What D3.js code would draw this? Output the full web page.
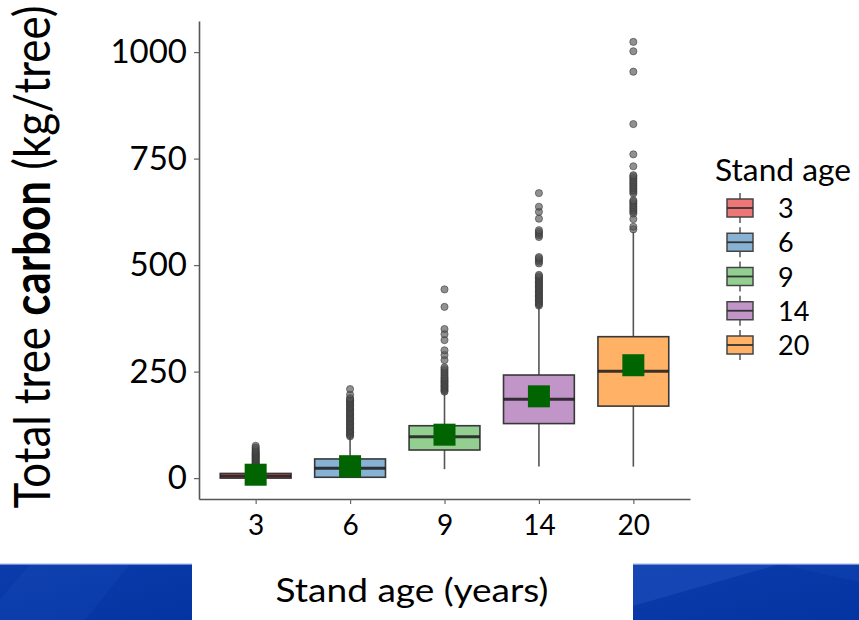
<!DOCTYPE html>
<html>
<head>
<meta charset="utf-8">
<script src="https://cdn.jsdelivr.net/npm/d3@7"></script>
<style>
  body { margin: 0; background: #fff; }
  svg { display: block; }
  text { font-family: Lato, "Open Sans", sans-serif; fill: #000; }
</style>
</head>
<body>
<svg id="chart" width="859" height="620"></svg>
<script>
// Stand ages (years) used as categories
const ages = ["3", "6", "9", "14", "20"];

// Five-number summaries of total tree carbon (kg/tree)
const lowerWhisker = [0, 0, 21, 27, 27];
const q1 = [0, 2, 66, 128, 169];
const medians = [5, 23, 97, 185, 251];
const q3 = [11, 45, 123, 242, 332];
const upperWhisker = [27, 96, 200, 402, 578];
const means = [8, 28, 102, 192, 265];

// Points beyond the whiskers
const outliers3 = [29, 31, 33, 35, 37, 39, 41, 43, 45, 47, 49, 51, 53, 55, 57, 59, 61, 63, 66, 69, 72, 76];
const outliers6 = [98, 101, 104, 107, 110, 113, 116, 119, 122, 125, 128, 131, 134, 137, 140, 143, 146, 149,
  152, 155, 158, 161, 164, 167, 170, 173, 176, 179, 182, 185, 188, 196, 209];
const outliers9 = [203, 206, 209, 212, 215, 218, 221, 224, 227, 230, 233, 236, 240, 244, 248, 252, 256, 260,
  277, 289, 300, 324, 338, 350, 402, 443];
const outliers14 = [405, 408, 411, 414, 417, 420, 423, 426, 429, 432, 435, 438, 441, 444, 447, 450, 453, 456,
  459, 462, 465, 468, 471, 474, 477, 504, 508, 512, 516, 519, 566, 570, 574, 578, 582, 609, 625, 637, 669];
const outliers20 = [584, 590, 608, 621, 625, 629, 633, 637, 641, 645, 649, 652, 668, 672, 676, 680, 684, 688,
  692, 696, 700, 704, 708, 711, 732, 760, 831, 954, 1002, 1024];
const outliers = [outliers3, outliers6, outliers9, outliers14, outliers20];

const yTicks = [0, 250, 500, 750, 1000];
const boxColors = ["#E41A1C", "#377EB8", "#4DAF4A", "#984EA3", "#FF7F00"];

const svg = d3.select("#chart");

// Blue slide bands along the bottom edge
const defs = svg.append("defs");
const grad = defs.append("linearGradient").attr("id", "band").attr("x1", 0).attr("y1", 0).attr("x2", 1).attr("y2", 1);
grad.append("stop").attr("offset", 0).attr("stop-color", "#0c3cab");
grad.append("stop").attr("offset", 1).attr("stop-color", "#0434a2");

const bands = svg.append("g");
bands.append("rect").attr("x", 0).attr("y", 564).attr("width", 192).attr("height", 56).attr("fill", "url(#band)");
bands.append("path").attr("d", "M30,564 L130,564 L85,620 L0,620 L0,600 Z").attr("fill", "#2a5bc8").attr("opacity", 0.15);
bands.append("rect").attr("x", 633).attr("y", 564).attr("width", 226).attr("height", 56).attr("fill", "url(#band)");
bands.append("path").attr("d", "M633,564 L780,564 L633,606 Z").attr("fill", "#2a5bc8").attr("opacity", 0.35);
bands.append("path").attr("d", "M780,564 L859,564 L859,582 Z").attr("fill", "#2a5bc8").attr("opacity", 0.15);
bands.append("rect").attr("x", 0).attr("y", 563.5).attr("width", 192).attr("height", 1.2).attr("fill", "#9fb4e4");
bands.append("rect").attr("x", 633).attr("y", 563.5).attr("width", 226).attr("height", 1.2).attr("fill", "#9fb4e4");

// Scales
const x = d3.scalePoint().domain(ages).range([199, 690]).padding(0.6);
const y = d3.scaleLinear().domain([-49, 1073]).range([499, 21]);
const bw = x.step() * 0.75;

// Axes
const yAxis = svg.append("g").attr("transform", "translate(199,0)")
  .call(d3.axisLeft(y).tickValues(yTicks).tickFormat(d3.format("d")).tickSize(5).tickSizeOuter(0).tickPadding(7));
const xAxis = svg.append("g").attr("transform", "translate(0,499)")
  .call(d3.axisBottom(x).tickSize(5).tickSizeOuter(0).tickPadding(11));
[yAxis, xAxis].forEach(a => {
  a.select(".domain").attr("stroke", "#555").attr("stroke-width", 1.6);
  a.selectAll(".tick line").attr("stroke", "#666").attr("stroke-width", 1.2);
});
yAxis.selectAll(".tick text").attr("font-size", 33).attr("fill", "#111")
  .attr("font-family", "Lato, sans-serif");
xAxis.selectAll(".tick text").attr("font-size", 28).attr("fill", "#111")
  .attr("font-family", "Lato, sans-serif");

// Boxplots
const plot = svg.append("g");
ages.forEach((age, i) => {
  const cx = x(age);
  const g = plot.append("g");
  g.append("line").attr("x1", cx).attr("x2", cx).attr("y1", y(lowerWhisker[i])).attr("y2", y(q1[i]))
    .attr("stroke", "#555").attr("stroke-width", 1.6);
  g.append("line").attr("x1", cx).attr("x2", cx).attr("y1", y(q3[i])).attr("y2", y(upperWhisker[i]))
    .attr("stroke", "#555").attr("stroke-width", 1.6);
  g.append("rect").attr("x", cx - bw / 2).attr("width", bw)
    .attr("y", y(q3[i])).attr("height", y(q1[i]) - y(q3[i]))
    .attr("fill", boxColors[i]).attr("fill-opacity", 0.6)
    .attr("stroke", "#383838").attr("stroke-width", 1.6);
  g.append("line").attr("x1", cx - bw / 2).attr("x2", cx + bw / 2)
    .attr("y1", y(medians[i])).attr("y2", y(medians[i]))
    .attr("stroke", "#1a1a1a").attr("stroke-opacity", 0.85).attr("stroke-width", 3);
  g.selectAll("circle").data(outliers[i]).join("circle")
    .attr("cx", cx).attr("cy", d => y(d)).attr("r", 3.6)
    .attr("fill", "#555").attr("fill-opacity", 0.65)
    .attr("stroke", "#333").attr("stroke-opacity", 0.55).attr("stroke-width", 1);
});

// Mean markers
const ms = 22;
plot.selectAll("rect.mean").data(ages).join("rect").attr("class", "mean")
  .attr("x", d => x(d) - ms / 2).attr("y", (d, i) => y(means[i]) - ms / 2)
  .attr("width", ms).attr("height", ms).attr("fill", "#006400");

// Horizontal scale factor that brings a text node to a target width
function fitWidth(node, target) {
  const w = node.getBBox().width;
  return w > 0 ? target / w : 1;
}

// Y axis title
const yTitleG = svg.append("g");
const yTitle = yTitleG.append("text").attr("text-anchor", "middle").attr("font-size", 51);
yTitle.append("tspan").text("Total tree ");
yTitle.append("tspan").attr("font-weight", "bold").text("carbon");
yTitle.append("tspan").text(" (kg/tree)");
const syT = fitWidth(yTitle.node(), 503);
yTitleG.attr("transform", `translate(50,257) rotate(-90) scale(${syT},1)`);

// X axis title
const xTitleG = svg.append("g");
const xTitle = xTitleG.append("text").attr("text-anchor", "middle").attr("font-size", 32)
  .text("Stand age (years)");
const sxT = fitWidth(xTitle.node(), 273);
xTitleG.attr("transform", `translate(412,602) scale(${sxT},1)`);

// Legend
const legend = svg.append("g");
const lgTitleG = legend.append("g");
const lgTitle = lgTitleG.append("text").attr("font-size", 31).text("Stand age");
const slg = fitWidth(lgTitle.node(), 136);
lgTitleG.attr("transform", `translate(715,181) scale(${slg},1)`);

const keyY = d3.scalePoint().domain(ages).range([208, 345]);
ages.forEach((age, i) => {
  const cy = keyY(age);
  const k = legend.append("g");
  k.append("line").attr("x1", 740).attr("x2", 740).attr("y1", cy - 15).attr("y2", cy + 15)
    .attr("stroke", "#555").attr("stroke-width", 1.5);
  k.append("rect").attr("x", 727).attr("y", cy - 9).attr("width", 26).attr("height", 18)
    .attr("fill", "#fff");
  k.append("rect").attr("x", 727).attr("y", cy - 9).attr("width", 26).attr("height", 18)
    .attr("fill", boxColors[i]).attr("fill-opacity", 0.6)
    .attr("stroke", "#444").attr("stroke-width", 1.5);
  k.append("line").attr("x1", 727).attr("x2", 753).attr("y1", cy).attr("y2", cy)
    .attr("stroke", "#333").attr("stroke-width", 1.8);
  k.append("text").attr("x", 778).attr("y", cy + 10).attr("font-size", 27).text(age);
});
</script>
</body>
</html>
